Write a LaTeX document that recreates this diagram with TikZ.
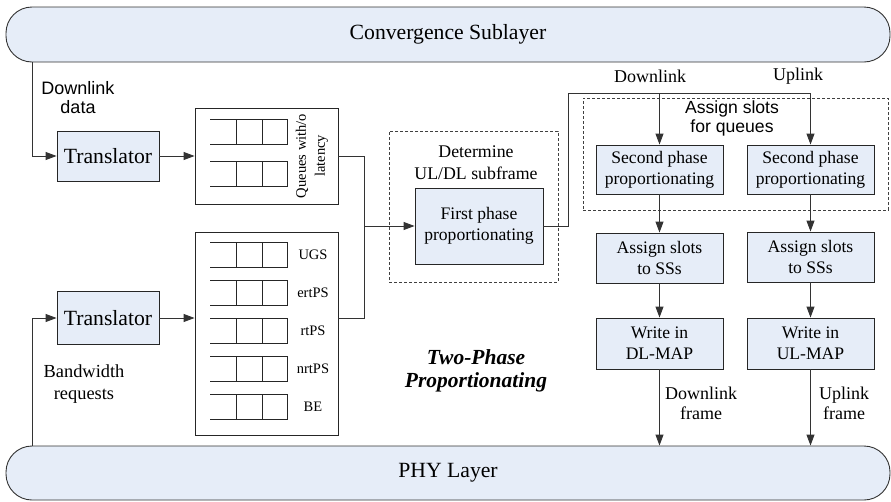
\documentclass[tikz,border=0pt]{standalone}
\usepackage{fontspec}
\setmainfont{Liberation Serif}
\newfontfamily\arialfont{Liberation Sans}
\usetikzlibrary{arrows.meta}
\definecolor{blockfill}{RGB}{230,237,248}

\tikzset{
  blockbox/.style={draw=black!85, fill=blockfill, line width=0.9pt, inner sep=0pt, align=center, font=\fontsize{17.6}{21}\selectfont},
  layerbar/.style={draw=black!80, fill=blockfill, line width=0.9pt, rounded corners=26pt, minimum width=884pt, minimum height=55pt, font=\fontsize{21.7}{24}\selectfont},
  queuebox/.style={draw=black!85, line width=0.9pt, inner sep=0pt},
  queueline/.style={draw=black!85, line width=1pt},
  groupbox/.style={draw=black!75, dash pattern=on 3pt off 2pt, line width=0.8pt, inner sep=0pt},
  arr/.style={-{Triangle[length=11pt,width=8pt]}, line width=0.9pt, draw=black!80},
  link/.style={line width=0.9pt, draw=black!80},
  txt/.style={align=center, inner sep=0pt},
}

\begin{document}
\begin{tikzpicture}[x=1pt, y=-1pt]
\useasboundingbox (0,0) rectangle (891,501);

% Layers
\node[layerbar] (cs) at (448,34.5) {Convergence Sublayer};
\node[layerbar, minimum height=54pt] (phy) at (448,473) {PHY Layer};

% Translators
\node[blockbox, minimum width=102pt, minimum height=50pt, font=\fontsize{21.7}{24}\selectfont] (tr1) at (108,156) {Translator};
\node[blockbox, minimum width=102pt, minimum height=53pt, font=\fontsize{21.7}{24}\selectfont] (tr2) at (108,318) {Translator};
\node[txt, font=\arialfont\fontsize{18}{19}\selectfont] (dldata) at (78,98) {Downlink\\data};
\node[txt, font=\fontsize{18.4}{22}\selectfont] (bwreq) at (84,384) {Bandwidth\\requests};

% Queue boxes
\node[queuebox, minimum width=143pt, minimum height=96pt] (q1) at (266.5,156) {};
\node[queuebox, minimum width=143pt, minimum height=203pt] (q2) at (266.5,333.5) {};
\foreach \qy in {119,161} {
  \draw[queueline] (210,\qy) -- (287,\qy) -- (287,{\qy+25}) -- (210,{\qy+25});
  \draw[queueline] (236,\qy) -- (236,{\qy+25});
  \draw[queueline] (262,\qy) -- (262,{\qy+25});
}
\node[txt, rotate=90, font=\fontsize{14.5}{19}\selectfont] (qlat) at (312,156) {Queues with/o\\latency};
\foreach \qy/\qname in {242/UGS,280/ertPS,318/rtPS,356/nrtPS,394/BE} {
  \draw[queueline] (210,\qy) -- (287,\qy) -- (287,{\qy+25}) -- (210,{\qy+25});
  \draw[queueline] (236,\qy) -- (236,{\qy+25});
  \draw[queueline] (262,\qy) -- (262,{\qy+25});
  \node[txt, font=\fontsize{14.5}{17}\selectfont] (lbl\qname) at (313,{\qy+12.5}) {\qname};
}

% First phase
\node[groupbox, minimum width=169pt, minimum height=151pt] (detbox) at (473.5,206.5) {};
\node[txt, font=\fontsize{17.8}{22}\selectfont] (dettxt) at (476,163) {Determine\\UL/DL subframe};
\node[blockbox, minimum width=128pt, minimum height=76pt] (fp) at (479,226) {First phase\\proportionating};
\node[txt, font=\bfseries\itshape\fontsize{21.5}{23}\selectfont] (twophase) at (476,371) {Two-Phase\\Proportionating};

% Second phase
\node[groupbox, minimum width=305pt, minimum height=112pt] (asgbox) at (735.5,154) {};
\node[txt, font=\arialfont\fontsize{17.6}{19}\selectfont] (asgtxt) at (732,118) {Assign slots\\for queues};
\node[blockbox, minimum width=127pt, minimum height=49pt] (sp1) at (659.5,169.5) {Second phase\\proportionating};
\node[blockbox, minimum width=127pt, minimum height=49pt] (sp2) at (810.5,169.5) {Second phase\\proportionating};
\node[blockbox, minimum width=127pt, minimum height=50pt] (as1) at (659.5,258) {Assign slots\\to SSs};
\node[blockbox, minimum width=127pt, minimum height=50pt] (as2) at (810.5,257) {Assign slots\\to SSs};
\node[blockbox, minimum width=127pt, minimum height=51pt] (wr1) at (659.5,343.5) {Write in\\DL-MAP};
\node[blockbox, minimum width=127pt, minimum height=51pt] (wr2) at (810.5,343.5) {Write in\\UL-MAP};
\node[txt, font=\fontsize{18}{20}\selectfont] (dltop) at (650,76) {Downlink};
\node[txt, font=\fontsize{18}{20}\selectfont] (ultop) at (798,76) {Uplink};
\node[txt, font=\fontsize{18}{20}\selectfont] (dlfr) at (701,403) {Downlink\\frame};
\node[txt, font=\fontsize{18}{20}\selectfont] (ulfr) at (844,403) {Uplink\\frame};

% Connectors
\coordinate (dlsrc) at (32,62);
\coordinate (ulsrc) at (32,446);
\coordinate (jn) at (364,226);
\coordinate (split) at (568,93);
\draw[arr] (dlsrc) |- (tr1.west);
\draw[arr] (ulsrc) |- (tr2.west);
\draw[arr] (tr1.east) -- (q1.west);
\draw[arr] (tr2.east) -- (tr2.east -| q2.west);
\draw[link] (q1.east) -| (jn);
\draw[link] (q2.east |- tr2.east) -| (jn);
\draw[arr] (jn) -- (fp.west);
\draw[link] (fp.east) -| (split) -- (split -| sp2.north);
\draw[arr] (split -| sp1.north) -- (sp1.north);
\draw[arr] (split -| sp2.north) -- (sp2.north);
\draw[arr] (sp1) -- (as1);
\draw[arr] (sp2) -- (as2);
\draw[arr] (as1) -- (wr1);
\draw[arr] (as2) -- (wr2);
\draw[arr] (wr1.south) -- (wr1.south |- phy.north);
\draw[arr] (wr2.south) -- (wr2.south |- phy.north);
\end{tikzpicture}
\end{document}
